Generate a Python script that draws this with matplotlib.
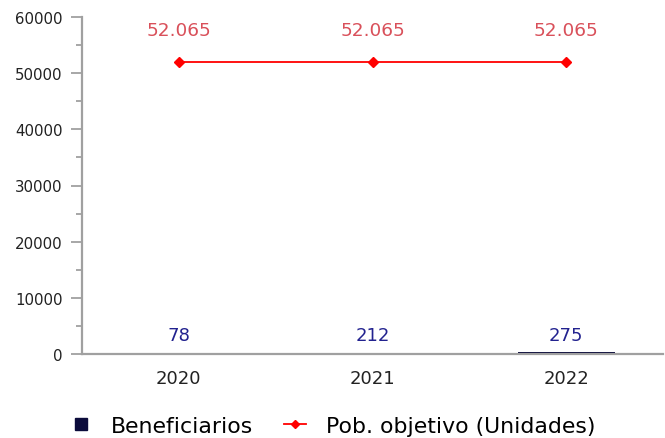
import matplotlib
matplotlib.use("Agg")
import matplotlib.pyplot as plt
from matplotlib.ticker import MultipleLocator
from matplotlib.lines import Line2D

years = ["2020", "2021", "2022"]
beneficiarios = [78, 212, 275]
pob_objetivo = [52065, 52065, 52065]
pob_labels = ["52.065", "52.065", "52.065"]
benef_labels = ["78", "212", "275"]

fig = plt.figure(figsize=(6.65, 4.39), dpi=100)
ax = fig.add_axes([82/665, 1-355/439, (663-82)/665, (355-18)/439])

x = list(range(len(years)))
ax.bar(x, beneficiarios, width=0.5, color="#0b0b3b", zorder=1)
ax.plot(x, pob_objetivo, color="#ff0000", lw=1.3, marker="D", markersize=5,
        markerfacecolor="#ff0000", markeredgecolor="#ff0000", zorder=2)

for xi, v, lab in zip(x, pob_objetivo, pob_labels):
    ax.annotate(lab, (xi, v), xytext=(0, 23), textcoords="offset points",
                ha="center", va="center", fontsize=13.3, color="#d9505a")
for xi, lab in zip(x, benef_labels):
    ax.annotate(lab, (xi, 0), xytext=(0, 13.5), textcoords="offset points",
                ha="center", va="center", fontsize=13, color="#22228f")

ax.set_xlim(-0.5, 2.5)
ax.set_ylim(0, 60000)
ax.yaxis.set_major_locator(MultipleLocator(10000))
ax.yaxis.set_minor_locator(MultipleLocator(5000))
ax.set_xticks(x)
ax.set_xticklabels(years)

for s in ["top", "right"]:
    ax.spines[s].set_visible(False)
for s in ["left", "bottom"]:
    ax.spines[s].set_color("#a0a0a0")
    ax.spines[s].set_linewidth(1.6)
    ax.spines[s].set_zorder(3)

ax.tick_params(axis="y", which="major", length=8, width=1.3, color="#a0a0a0",
               labelsize=10.8, labelcolor="#222222", pad=6)
ax.tick_params(axis="y", which="minor", length=4.5, width=1.3, color="#a0a0a0")
ax.tick_params(axis="x", which="major", length=0, labelsize=13,
               labelcolor="#222222", pad=11)

handles = [
    Line2D([0], [0], color="none", marker="s", markersize=9,
           markerfacecolor="#0b0b3b", markeredgecolor="#0b0b3b"),
    Line2D([0], [0], color="#ff0000", lw=1.3, marker="D", markersize=4.5,
           markerfacecolor="#ff0000", markeredgecolor="#ff0000"),
]
fig.legend(handles, ["Beneficiarios", "Pob. objetivo (Unidades)"],
           loc="center", bbox_to_anchor=(0.5, 1-427/439), ncol=2,
           frameon=False, fontsize=15.8, handlelength=1.0,
           columnspacing=1.4, handletextpad=0.9)

fig.savefig("out.png", dpi=100)
